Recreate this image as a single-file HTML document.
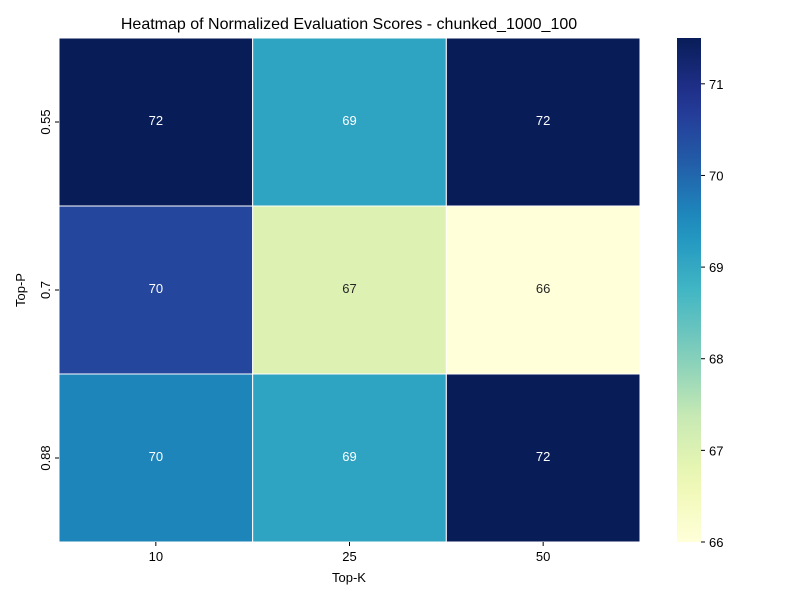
<!DOCTYPE html>
<html><head><meta charset="utf-8"><style>
body{margin:0;background:#fff;font-family:"Liberation Sans","DejaVu Sans",sans-serif;}
</style></head><body>
<svg id="chart" width="800" height="600" xmlns="http://www.w3.org/2000/svg">
<text x="349" y="29" text-anchor="middle" font-size="16" fill="#000">Heatmap of Normalized Evaluation Scores - chunked_1000_100</text>
<g id="cells"></g>
<g id="axes"></g>
<text x="349" y="582" text-anchor="middle" font-size="13">Top-K</text>
<text transform="translate(25,290) rotate(-90)" text-anchor="middle" font-size="13">Top-P</text>
<defs><linearGradient id="cbgrad" x1="0" y1="1" x2="0" y2="0"></linearGradient></defs>
<rect x="677" y="38" width="24" height="504" fill="url(#cbgrad)"/>
<g id="cbticks"></g>
</svg>
<script>
const xCategories = ["10","25","50"];
const yCategories = ["0.55","0.7","0.88"];
const values = [[71.5,69.1,71.5],[70.5,67.0,66.0],[69.6,69.1,71.5]];
const labels = [["72","69","72"],["70","67","66"],["70","69","72"]];
const cbTicks = [66,67,68,69,70,71];
const vmin = 66, vmax = 71.5;
const stops = ["#ffffd9","#edf8b1","#c7e9b4","#7fcdbb","#41b6c4","#1d91c0","#225ea8","#253494","#081d58"];
function hex(h){return [1,3,5].map(i=>parseInt(h.substr(i,2),16));}
function cmap(v){let t=Math.max(0,Math.min(1,(v-vmin)/(vmax-vmin)))*(stops.length-1);let i=Math.min(Math.floor(t),stops.length-2),f=t-i;let a=hex(stops[i]),b=hex(stops[i+1]);return "rgb("+a.map((c,k)=>Math.round(c+(b[k]-c)*f)).join(",")+")";}
const L=59,R=640,T=38,B=542;
const cw=(R-L)/xCategories.length, ch=(B-T)/yCategories.length;
const xPos=i=>L+i*cw, yPos=j=>T+j*ch;
const NS="http://www.w3.org/2000/svg";
const cells=document.getElementById("cells"), axes=document.getElementById("axes");
function mk(tag,attrs,parent){const e=document.createElementNS(NS,tag);for(const k in attrs)e.setAttribute(k,attrs[k]);parent.appendChild(e);return e;}
yCategories.forEach((yc,j)=>{xCategories.forEach((xc,i)=>{
  const v=values[j][i];
  const r=mk("rect",{x:xPos(i),y:yPos(j),width:cw,height:ch,fill:cmap(v),stroke:"#fff","stroke-width":1},cells);
  
  
  const t=mk("text",{x:xPos(i)+cw/2,y:yPos(j)+ch/2+3,"text-anchor":"middle","font-size":13,fill:(v-vmin)/(vmax-vmin)>0.4?"#fff":"#262626"},cells);
  t.textContent=labels[j][i];
  
  
});});
xCategories.forEach((c,i)=>{const x=xPos(i)+cw/2;
  const l=mk("line",{x1:x,x2:x,y1:B,y2:B+4,stroke:"#000"},axes);
  
  
  const t=mk("text",{x:x,y:B+19,"text-anchor":"middle","font-size":13},axes);t.textContent=c;
  
  
});
yCategories.forEach((c,j)=>{const y=yPos(j)+ch/2;
  const l=mk("line",{x1:L-4,x2:L,y1:y,y2:y,stroke:"#000"},axes);
  
  
  const t=mk("text",{transform:"translate("+(L-9)+","+y+") rotate(-90)","text-anchor":"middle","font-size":13},axes);t.textContent=c;
  
  
});
const g=document.getElementById("cbgrad");
for(let k=0;k<=20;k++){const v=vmin+(vmax-vmin)*k/20;mk("stop",{offset:(k/20),"stop-color":cmap(v)},g);}
const cbt=document.getElementById("cbticks");
const cbY=v=>B-(v-vmin)/(vmax-vmin)*(B-T);
cbTicks.forEach(v=>{const y=cbY(v);
  const l=mk("line",{x1:701,x2:705,y1:y,y2:y,stroke:"#000"},cbt);
  
  
  const t=mk("text",{x:709,y:y+5,"font-size":13},cbt);t.textContent=v;
  
  
});
</script>
</body></html>
